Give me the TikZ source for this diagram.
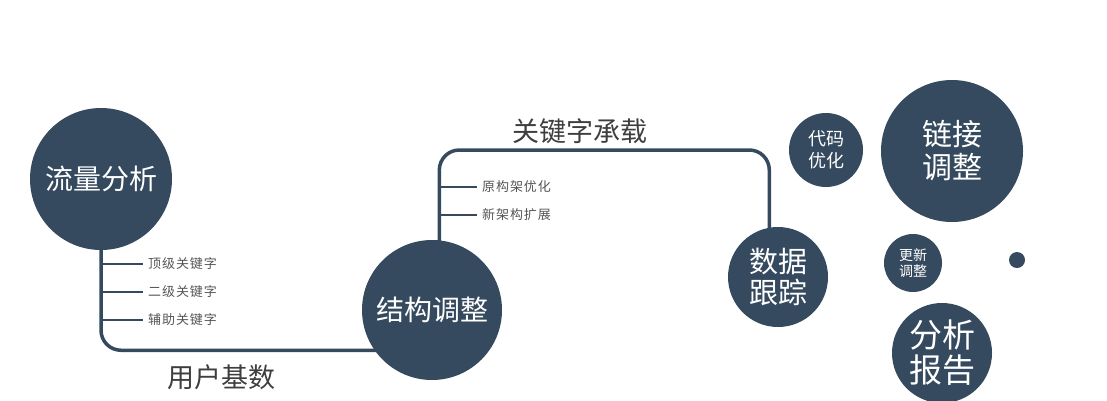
\documentclass[tikz,border=0pt]{standalone}
\usepackage{fontspec}
\setmainfont{Noto Sans CJK SC}
\newfontfamily\spacedfont[LetterSpace=7]{Noto Sans CJK SC}
\usepackage{xcolor}
\usetikzlibrary{positioning, backgrounds}

\definecolor{slate}{RGB}{53,74,94}
\definecolor{txtgray}{RGB}{62,62,62}
\definecolor{subgray}{RGB}{85,85,85}

\begin{document}
\begin{tikzpicture}[
        x=1pt, y=-1pt,
        bubble/.style={
            circle,
            fill=slate,
            text=white,
            align=center,
            inner sep=0pt
        },
        trunk/.style={
            draw=slate,
            line width=3.5pt,
            rounded corners=20pt,
            shorten <=-3pt, shorten >=-3pt
        },
        twig/.style={
            draw=slate,
            line width=1.3pt
        },
        sub/.style={
            text=subgray,
            anchor=west,
            inner sep=5pt,
            font=\spacedfont\fontsize{13}{15}\selectfont
        },
        caption/.style={
            text=txtgray,
            font=\fontsize{27}{30}\selectfont
        }
    ]
        \useasboundingbox (0,0) rectangle (1107,400);

        % main bubbles
        \node[bubble, minimum size=142pt, font=\fontsize{28}{30}\selectfont] (liuliang) at (101,179) {流量分析};
        \node[bubble, minimum size=140pt, font=\fontsize{28}{30}\selectfont] (jiegou) at (432,310) {结构调整};
        \node[bubble, minimum size=100pt, font=\fontsize{29}{31}\selectfont] (shuju) at (778,277) {数据\\跟踪};

        % side bubbles
        \node[bubble, minimum size=74pt, font=\fontsize{18}{22}\selectfont] (daima) at (826,150) {代码\\优化};
        \node[bubble, minimum size=142pt, font=\fontsize{30}{33}\selectfont] (lianjie) at (952,151) {链接\\调整};
        \node[bubble, minimum size=58pt, font=\fontsize{14}{16}\selectfont] (gengxin) at (913,263) {更新\\调整};
        \node[bubble, minimum size=100pt, font=\fontsize{33}{35}\selectfont] (baogao) at (942,353) {分析\\报告};
        \node[bubble, minimum size=16pt] (dot) at (1017,260) {};

        % sub items
        \node[sub] (dingji) at (143,264) {顶级关键字};
        \node[sub] (erji) at (143,292) {二级关键字};
        \node[sub] (fuzhu) at (143,320) {辅助关键字};
        \node[sub] (yuan) at (477,187) {原构架优化};
        \node[sub] (xin) at (477,215) {新架构扩展};

        % captions
        \node[caption] (yonghu) at (221,377) {用户基数};
        \node[caption] (chengzai) at (580,131) {关键字承载};
        \coordinate (top) at (600,150);

        \begin{scope}[on background layer]
            \draw[trunk] (liuliang.south) |- (jiegou.215);
            \draw[trunk] (jiegou.84) |- (top) -| (shuju.100);
        \end{scope}

        \draw[twig] (dingji.west -| liuliang.south) -- (dingji.west);
        \draw[twig] (erji.west -| liuliang.south) -- (erji.west);
        \draw[twig] (fuzhu.west -| liuliang.south) -- (fuzhu.west);
        \draw[twig] (yuan.west -| jiegou.84) -- (yuan.west);
        \draw[twig] (xin.west -| jiegou.84) -- (xin.west);

\end{tikzpicture}
\end{document}
